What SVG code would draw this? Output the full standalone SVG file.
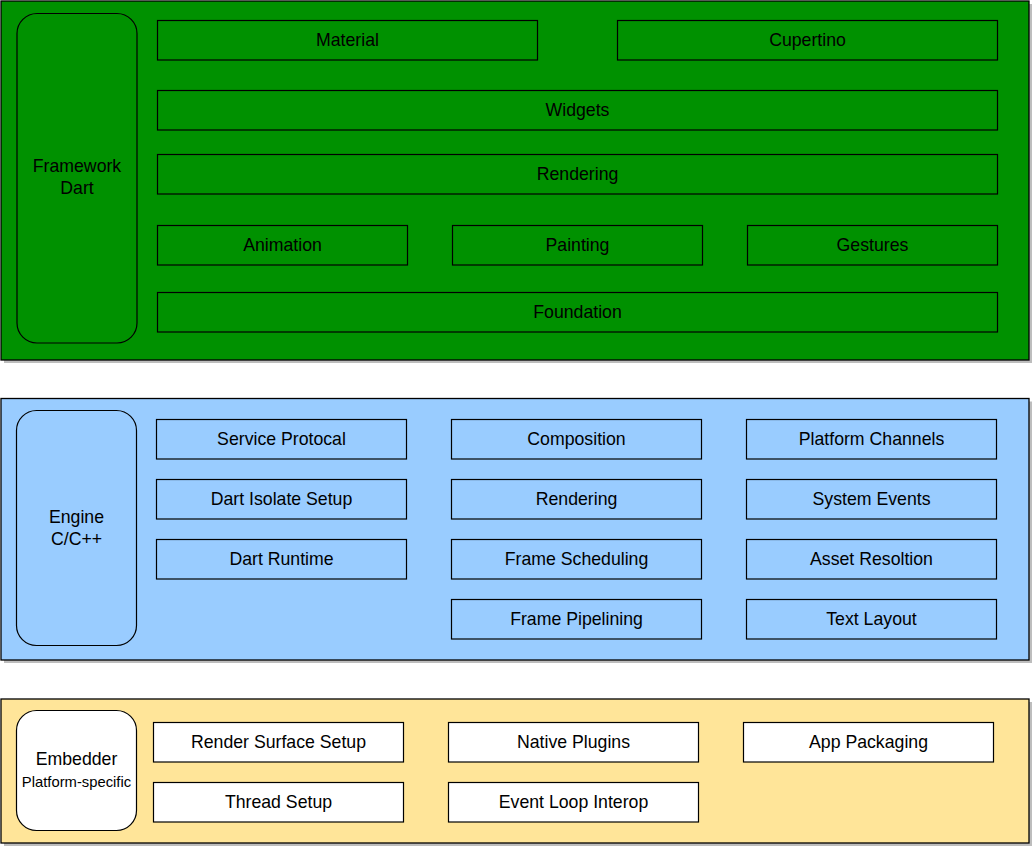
<svg xmlns="http://www.w3.org/2000/svg" width="1033" height="849" viewBox="0 0 1033 849">
<style>
text{font-family:"Liberation Sans",Arial,Helvetica,sans-serif;font-size:17.7px;fill:#000;text-anchor:middle}
.small{font-size:14.8px}
.shadow{fill:#bdbdbd}
.panel{stroke:#000;stroke-width:1.3}
.box{stroke:#000;stroke-width:1.2}
.green{fill:#009100}
.blue{fill:#99ccff}
.yellow{fill:#ffe599}
.white{fill:#ffffff}
</style>
<rect width="1033" height="849" fill="#ffffff"/>
<g id="framework">
<rect class="shadow" x="4" y="4" width="1028" height="359"/>
<rect class="panel green" x="1" y="1" width="1028" height="359"/>
<rect class="box green" x="17" y="13.5" width="120" height="329.5" rx="20" ry="20"/>
<text x="77" y="172">Framework</text>
<text x="77" y="194">Dart</text>
</g>
<g id="material"><rect class="box green" x="157.5" y="20.5" width="380" height="39.5"/><text x="347.5" y="46.3">Material</text></g>
<g id="cupertino"><rect class="box green" x="617.5" y="20.5" width="380" height="39.5"/><text x="807.5" y="46.3">Cupertino</text></g>
<g id="widgets"><rect class="box green" x="157.5" y="90.5" width="840" height="39.5"/><text x="577.5" y="116.3">Widgets</text></g>
<g id="rendering-fw"><rect class="box green" x="157.5" y="154.5" width="840" height="39.5"/><text x="577.5" y="180.3">Rendering</text></g>
<g id="animation"><rect class="box green" x="157.5" y="225.5" width="250" height="39.5"/><text x="282.5" y="251.3">Animation</text></g>
<g id="painting"><rect class="box green" x="452.5" y="225.5" width="250" height="39.5"/><text x="577.5" y="251.3">Painting</text></g>
<g id="gestures"><rect class="box green" x="747.5" y="225.5" width="250" height="39.5"/><text x="872.5" y="251.3">Gestures</text></g>
<g id="foundation"><rect class="box green" x="157.5" y="292.5" width="840" height="39.5"/><text x="577.5" y="318.3">Foundation</text></g>

<g id="engine">
<rect class="shadow" x="4" y="401.5" width="1028" height="261.5"/>
<rect class="panel blue" x="1" y="398.5" width="1028" height="261.5"/>
<rect class="box blue" x="16.5" y="410.5" width="120" height="235" rx="20" ry="20"/>
<text x="76.5" y="523">Engine</text>
<text x="76.5" y="545">C/C++</text>
</g>
<g id="service-protocal"><rect class="box blue" x="156.5" y="419.5" width="250" height="39.5"/><text x="281.5" y="445.3">Service Protocal</text></g>
<g id="dart-isolate-setup"><rect class="box blue" x="156.5" y="479.5" width="250" height="39.5"/><text x="281.5" y="505.3">Dart Isolate Setup</text></g>
<g id="dart-runtime"><rect class="box blue" x="156.5" y="539.5" width="250" height="39.5"/><text x="281.5" y="565.3">Dart Runtime</text></g>
<g id="composition"><rect class="box blue" x="451.5" y="419.5" width="250" height="39.5"/><text x="576.5" y="445.3">Composition</text></g>
<g id="rendering-engine"><rect class="box blue" x="451.5" y="479.5" width="250" height="39.5"/><text x="576.5" y="505.3">Rendering</text></g>
<g id="frame-scheduling"><rect class="box blue" x="451.5" y="539.5" width="250" height="39.5"/><text x="576.5" y="565.3">Frame Scheduling</text></g>
<g id="frame-pipelining"><rect class="box blue" x="451.5" y="599.5" width="250" height="39.5"/><text x="576.5" y="625.3">Frame Pipelining</text></g>
<g id="platform-channels"><rect class="box blue" x="746.5" y="419.5" width="250" height="39.5"/><text x="871.5" y="445.3">Platform Channels</text></g>
<g id="system-events"><rect class="box blue" x="746.5" y="479.5" width="250" height="39.5"/><text x="871.5" y="505.3">System Events</text></g>
<g id="asset-resoltion"><rect class="box blue" x="746.5" y="539.5" width="250" height="39.5"/><text x="871.5" y="565.3">Asset Resoltion</text></g>
<g id="text-layout"><rect class="box blue" x="746.5" y="599.5" width="250" height="39.5"/><text x="871.5" y="625.3">Text Layout</text></g>

<g id="embedder">
<rect class="shadow" x="4" y="702" width="1028" height="144"/>
<rect class="panel yellow" x="1" y="699" width="1028" height="144"/>
<rect class="box white" x="16.5" y="710.5" width="120" height="120" rx="20" ry="20"/>
<text x="76.5" y="765">Embedder</text>
<text class="small" x="76.5" y="787">Platform-specific</text>
</g>
<g id="render-surface-setup"><rect class="box white" x="153.5" y="722.5" width="250" height="39.5"/><text x="278.5" y="748.3">Render Surface Setup</text></g>
<g id="thread-setup"><rect class="box white" x="153.5" y="782.5" width="250" height="39.5"/><text x="278.5" y="808.3">Thread Setup</text></g>
<g id="native-plugins"><rect class="box white" x="448.5" y="722.5" width="250" height="39.5"/><text x="573.5" y="748.3">Native Plugins</text></g>
<g id="event-loop-interop"><rect class="box white" x="448.5" y="782.5" width="250" height="39.5"/><text x="573.5" y="808.3">Event Loop Interop</text></g>
<g id="app-packaging"><rect class="box white" x="743.5" y="722.5" width="250" height="39.5"/><text x="868.5" y="748.3">App Packaging</text></g>
<g id="connectors"></g>
</svg>
